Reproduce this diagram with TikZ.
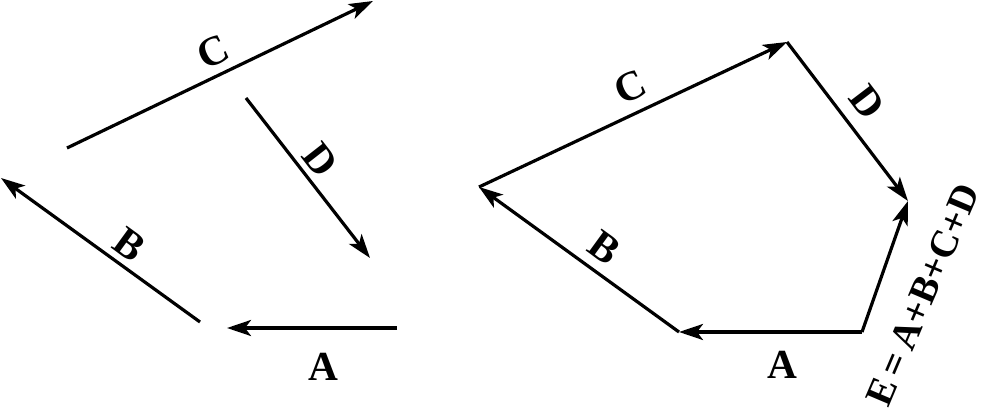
\documentclass[tikz,border=0pt]{standalone}
\usepackage{fontspec}
\setmainfont{Liberation Serif}
\usetikzlibrary{arrows.meta}
\tikzset{
    vec/.style={
        -{Stealth[length=18pt,width=12pt,inset=4.5pt]},
        line width=2.4pt
    },
    lbl/.style={
        font=\bfseries\fontsize{31}{31}\selectfont,
        inner sep=0pt
    }
}

\begin{document}
\begin{tikzpicture}[x=0.75pt,y=-0.75pt]
    \useasboundingbox (0,0) rectangle (983,417);
    % separate vectors
    \coordinate (a1) at (397,328);
    \coordinate (a2) at (227,328);
    \coordinate (b1) at (200,322);
    \coordinate (b2) at (1,178);
    \coordinate (c1) at (67,148);
    \coordinate (c2) at (373,1);
    \coordinate (d1) at (246,98);
    \coordinate (d2) at (370,258);
    \draw [vec] (a1) -- (a2);
    \draw [vec] (b1) -- (b2);
    \draw [vec] (c1) -- (c2);
    \draw [vec] (d1) -- (d2);
    \node (labelA) [lbl] at (323,367) {A};
    \node (labelB) [lbl, rotate=-36] at (130,245) {B};
    \node (labelC) [lbl, rotate=25.7] at (213,52) {C};
    \node (labelD) [lbl, rotate=-52] at (320,160) {D};
    % head to tail
    \coordinate (p1) at (862,332);
    \coordinate (p2) at (679,332);
    \coordinate (p3) at (479,187);
    \coordinate (p4) at (787,42);
    \coordinate (p5) at (908,201);
    \draw [vec] (p1) -- (p2);
    \draw [vec] (p2) -- (p3);
    \draw [vec] (p3) -- (p4);
    \draw [vec] (p4) -- (p5);
    \draw [vec] (p1) -- (p5);
    \node (sumA) [lbl] at (782,365) {A};
    \node (sumB) [lbl, rotate=-36] at (605,248) {B};
    \node (sumC) [lbl, rotate=25.2] at (630,87) {C};
    \node (sumD) [lbl, rotate=-52.7] at (867,102) {D};
    \node (sumE) [lbl, font=\bfseries\fontsize{29}{29}\selectfont, rotate=67] at (923,295) {E\,=\,A+B+C+D};
\end{tikzpicture}
\end{document}
